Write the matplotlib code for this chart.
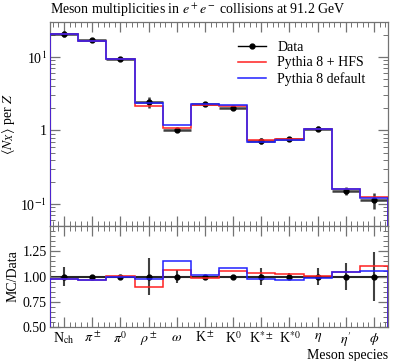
import numpy as np
import matplotlib
matplotlib.use("Agg")
import matplotlib.pyplot as plt
from matplotlib.lines import Line2D
from matplotlib.ticker import FixedLocator, FixedFormatter, MultipleLocator, LogLocator, NullFormatter

plt.rcParams['font.family'] = ['Liberation Serif', 'DejaVu Serif']
plt.rcParams['mathtext.fontset'] = 'stix'

# meson species and values
labels = [r"N$_{\rm ch}$", r"$\pi^\pm$", r"$\pi^0$", r"$\rho^\pm$", r"$\omega$",
          r"K$^\pm$", r"K$^0$", r"K$^{*\pm}$", r"K$^{*0}$", r"$\eta$", r"$\eta'$", r"$\phi$"]
data = [20.9, 17.0, 9.4, 2.45, 1.02, 2.26, 2.05, 0.72, 0.755, 1.06, 0.152, 0.113]
data_relerr = [0.09, 0.01, 0.02, 0.18, 0.065, 0.02, 0.01, 0.08, 0.03, 0.08, 0.13, 0.24]
ratio_hfs = [0.98, 0.967, 1.007, 0.893, 1.067, 0.987, 1.05, 1.037, 1.023, 1.003, 1.043, 1.10]
ratio_def = [0.977, 0.965, 1.0, 0.977, 1.15, 1.017, 1.083, 0.977, 0.967, 0.987, 1.043, 1.05]

x = np.arange(1, len(labels) + 1)
edges = np.arange(0.5, len(labels) + 1, 1.0)
data = np.array(data)
derr = data * np.array(data_relerr)
hfs = data * np.array(ratio_hfs)
dflt = data * np.array(ratio_def)

red = '#ff2020'
blue = '#2020ff'
frame = '0.45'

fig = plt.figure(figsize=(4.0, 3.61), dpi=100)
ax1 = fig.add_axes([0.125, 0.374, 0.845, 0.565])
ax2 = fig.add_axes([0.125, 0.094, 0.845, 0.280], sharex=ax1)

# top panel
ax1.errorbar(x, data, yerr=derr, xerr=0.5, fmt='o', color='0.25', ms=3.5, lw=1.8,
             mfc='black', mec='black', zorder=2)
ax1.stairs(hfs, edges, color=red, lw=1.1, zorder=3)
ax1.stairs(dflt, edges, color=blue, lw=1.1, zorder=4)
h_data = (Line2D([], [], color='black', lw=1.0),
          Line2D([], [], color='black', marker='o', ms=3.5, ls='none'))
h_hfs = Line2D([], [], color=red, lw=1.1)
h_def = Line2D([], [], color=blue, lw=1.1)
ax1.set_yscale('log')
ax1.set_ylim(0.05, 30)
ax1.set_xlim(0.5, 12.5)
ax1.yaxis.set_major_locator(FixedLocator([0.1, 1, 10]))
ax1.yaxis.set_major_formatter(FixedFormatter([r"10$^{-1}$", "1", r"10$^{1}$"]))
ax1.yaxis.set_minor_locator(LogLocator(base=10, subs=np.arange(2, 10)))
ax1.yaxis.set_minor_formatter(NullFormatter())
ax1.set_ylabel(r"$\langle N_X\rangle$ per $Z$", fontsize=10, labelpad=2)
ax1.set_title(r"Meson multiplicities in $e^+e^-$ collisions at 91.2 GeV", fontsize=10,
              loc='left', pad=6)
ax1.legend([h_data, h_hfs, h_def], ['Data', 'Pythia 8 + HFS', 'Pythia 8 default'],
           loc='upper right', frameon=False, fontsize=10, handlelength=2.0,
           labelspacing=0.2, bbox_to_anchor=(0.97, 0.97))
plt.setp(ax1.get_xticklabels(), visible=False)

# ratio panel
ax2.axhline(1.0, color='0.15', lw=1.5, zorder=1)
ax2.errorbar(x, np.ones(len(x)), yerr=data_relerr, fmt='o', color='0.25', ms=3.5, lw=1.5,
             mfc='black', mec='black', zorder=2)
ax2.stairs(ratio_hfs, edges, color=red, lw=1.1, zorder=3)
ax2.stairs(ratio_def, edges, color=blue, lw=1.1, zorder=4)
ax2.set_ylim(0.5, 1.5)
ax2.set_yticks([0.5, 0.75, 1.0, 1.25])
ax2.set_yticklabels(["0.50", "0.75", "1.00", "1.25"])
ax2.yaxis.set_minor_locator(MultipleLocator(0.05))
ax2.set_xticks(x)
ax2.set_xticklabels(labels, fontsize=10)
ax2.xaxis.set_minor_locator(MultipleLocator(0.2))
ax2.set_ylabel("MC/Data", fontsize=10, labelpad=2)
ax2.set_xlabel("Meson species", fontsize=10, loc='right', labelpad=0)

for ax in (ax1, ax2):
    for s in ax.spines.values():
        s.set_color(frame)
        s.set_linewidth(0.9)
    ax.tick_params(which='both', direction='in', top=True, right=True, color=frame,
                   labelsize=10, pad=2.5)
    ax.tick_params(which='major', length=7, width=0.9)
    ax.tick_params(which='minor', length=3.5, width=0.7)

fig.savefig('out.png', dpi=100)
